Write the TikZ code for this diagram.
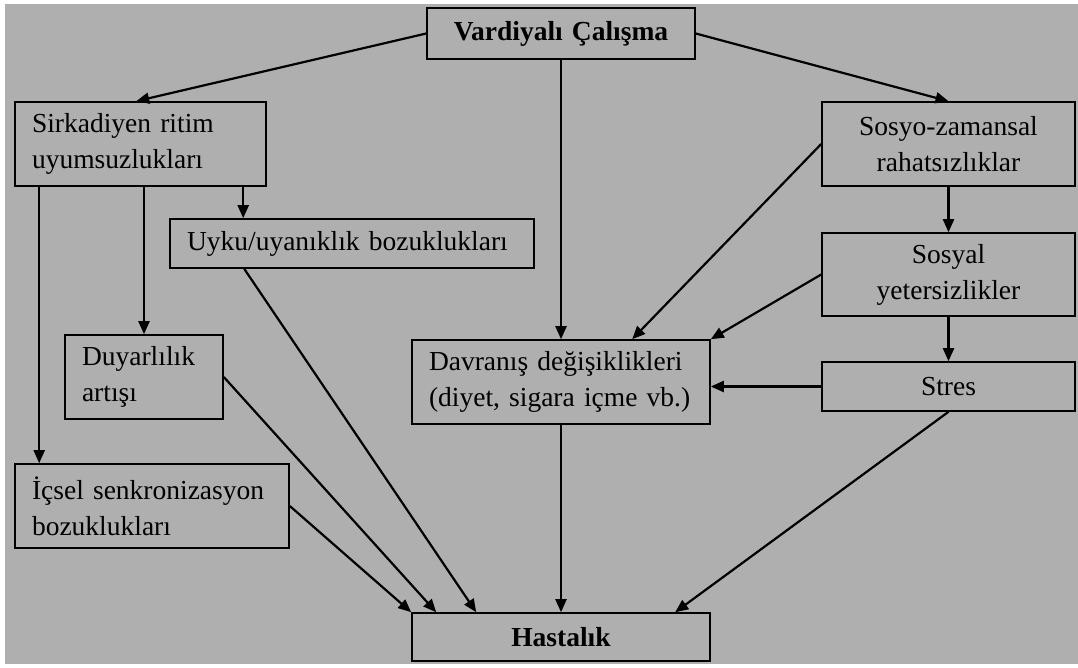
\documentclass[tikz,border=0pt]{standalone}
\usepackage{fontspec}
\setmainfont{Liberation Serif}
\usetikzlibrary{arrows.meta}
\definecolor{bggray}{RGB}{175,175,175}
\begin{document}
\begin{tikzpicture}[x=1pt,y=-1pt,
  box/.style={draw=black, line width=1.6pt, fill=bggray, rectangle,
    inner xsep=17pt, inner ysep=0pt, font=\fontsize{27.5}{36}\selectfont},
  lbox/.style={box, align=left},
  cbox/.style={box, align=center},
  arr/.style={line width=2.2pt, -{Triangle[length=13pt,width=11pt]}}]
\useasboundingbox (0,0) rectangle (1078,667);
\fill[white] (0,0) rectangle (1078,667);
\fill[bggray] (5,4) rectangle (1078,664);
% nodes
\node[cbox, minimum width=268pt, minimum height=51pt, text width=234pt] (V) at (561,33.5) {\bfseries Vardiyalı Çalışma};
\node[lbox, minimum width=251pt, minimum height=84pt, text width=217pt] (S) at (140.5,144) {Sirkadiyen ritim\\uyumsuzlukları};
\node[lbox, minimum width=364pt, minimum height=49pt, text width=330pt] (U) at (352,243.5) {Uyku/uyanıklık bozuklukları};
\node[lbox, minimum width=158pt, minimum height=84pt, text width=124pt] (D) at (144,377) {Duyarlılık\\artışı};
\node[lbox, minimum width=274pt, minimum height=84pt, text width=240pt] (I) at (152,506) {İçsel senkronizasyon\\bozuklukları};
\node[lbox, minimum width=298pt, minimum height=84pt, text width=264pt] (B) at (561,382) {Davranış değişiklikleri\\(diyet, sigara içme vb.)};
\node[cbox, minimum width=253pt, minimum height=84pt, text width=219pt] (Z) at (948.5,144) {Sosyo-zamansal\\rahatsızlıklar};
\node[cbox, minimum width=253pt, minimum height=83pt, text width=219pt] (Y) at (948.5,274.5) {Sosyal\\yetersizlikler};
\node[cbox, minimum width=253pt, minimum height=49pt, text width=219pt] (T) at (948.5,386.5) {Stres};
\node[cbox, minimum width=298pt, minimum height=48pt, text width=264pt] (H) at (561,637) {\bfseries Hastalık};
% helper coordinates
\coordinate (s1) at ([xshift=122pt]S.north west);
\coordinate (i1) at ([xshift=25pt]I.north west);
\coordinate (u1) at ([xshift=74pt]U.north west);
\coordinate (u2) at ([xshift=75pt]U.south west);
\coordinate (h1) at ([xshift=65pt]H.north west);
\coordinate (h2) at ([xshift=25pt]H.north west);
\coordinate (h3) at ([xshift=264pt]H.north west);
\coordinate (b1) at ([xshift=221pt]B.north west);
% connectors
\draw[arr] (V.west) -- (s1);
\draw[arr] (V.east) -- (Z.north);
\draw[arr] (V.south) -- (B.north);
\draw[arr] (i1 |- S.south) -- (i1);
\draw[arr] (D.north |- S.south) -- (D.north);
\draw[arr] (u1 |- S.south) -- (u1);
\draw[arr] (u2) -- (h1);
\draw[arr] (D.east) -- (h2);
\draw[arr] (I.east) -- (H.north west);
\draw[arr] (Z.west) -- (b1);
\draw[arr] (Y.west) -- (B.north east);
\draw[arr] (Z.south) -- (Y.north);
\draw[arr] (Y.south) -- (T.north);
\draw[arr] (T.west) -- (T.west -| B.east);
\draw[arr] (T.south) -- (h3);
\draw[arr] (B.south) -- (H.north);
\end{tikzpicture}
\end{document}
